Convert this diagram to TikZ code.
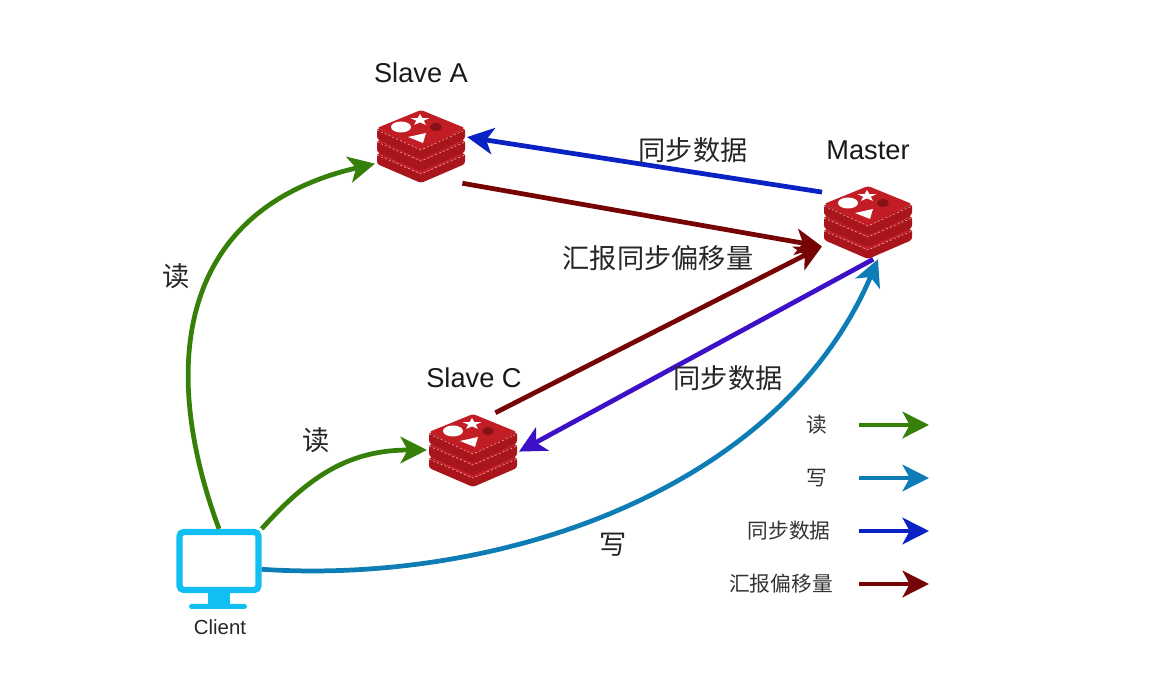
\documentclass[tikz,border=0pt]{standalone}
\usepackage{fontspec}
\usepackage{xcolor}
\usepackage{tikz}
\setmainfont{Liberation Sans}
\newfontfamily\cjk{Noto Sans CJK SC}
\usetikzlibrary{arrows.meta}
\definecolor{readgreen}{HTML}{367F08}
\definecolor{writeblue}{HTML}{0E7DB5}
\definecolor{syncblue}{HTML}{0A22C4}
\definecolor{syncpurple}{HTML}{3C10C6}
\definecolor{reportred}{HTML}{770404}
\definecolor{screencyan}{HTML}{12BFF2}
\definecolor{redistop}{HTML}{C21C24}
\definecolor{redisside}{HTML}{A8161C}
\tikzset{
    flow/.style={line width=2.7pt, -{Stealth[length=15pt, width=15pt, inset=4pt]}},
    iconbox/.style={minimum width=52pt, minimum height=42pt, inner sep=0pt},
    monitor/.style={draw=screencyan, line width=3.6pt, rounded corners=2.5pt, minimum width=45pt, minimum height=33pt, inner sep=0pt},
    hostname/.style={font=\fontsize{15.5}{18}\selectfont, text=black!90},
    lab/.style={font=\cjk\fontsize{15.5}{18}\selectfont, text=black!85},
    legtext/.style={font=\cjk\fontsize{11.8}{14}\selectfont, text=black!80},
    rimline/.style={draw=red!30!white, line width=0.3pt, dash pattern=on 1.2pt off 1.2pt},
    redisstack/.pic={
        \fill [redisside, rounded corners=1.5pt] (-44,7) -- (0,28) -- (44,7) -- (44,18) -- (0,37) -- (-44,18) -- cycle;
        \fill [redistop, rounded corners=1.5pt] (-44,7) -- (0,-11) -- (44,7) -- (0,28) -- cycle;
        \draw [rimline] (-44,9) -- (0,28) -- (44,9);
        \fill [redisside, rounded corners=1.5pt] (-44,-6) -- (0,15) -- (44,-6) -- (44,6) -- (0,25) -- (-44,6) -- cycle;
        \fill [redistop, rounded corners=1.5pt] (-44,-6) -- (0,-24) -- (44,-6) -- (0,15) -- cycle;
        \draw [rimline] (-44,-4) -- (0,15) -- (44,-4);
        \fill [redisside, rounded corners=1.5pt] (-44,-18) -- (0,4) -- (44,-18) -- (44,-7) -- (0,13) -- (-44,-7) -- cycle;
        \fill [redistop, rounded corners=1.5pt] (-44,-18) -- (0,-36) -- (44,-18) -- (0,4) -- cycle;
        \draw [rimline] (-44,-16) -- (0,4) -- (44,-16);
        \fill [white] (-20,-19) ellipse (10 and 5.5);
        \fill [white, shift={(0,2)}] (-1,-34) -- (1.4,-29.9) -- (8.5,-29.9) -- (2.8,-27.3) -- (4.9,-23.1) -- (-1,-25.6) -- (-6.9,-23.1) -- (-4.8,-27.3) -- (-10.5,-29.9) -- (-3.4,-29.9) -- cycle;
        \fill [white] (-13,-9) -- (5,-13) -- (2,-3) -- cycle;
        \fill [redisside!80!black] (15,-19) ellipse (6 and 4);
    }
}

\begin{document}
\begin{tikzpicture}[x=0.02cm, y=-0.02cm]
    \useasboundingbox (0,0) rectangle (1160,688);

    \node [iconbox] (slavea) at (421,146) {};
    \node [iconbox] (master) at (868,222) {};
    \node [iconbox] (slavec) at (473,450) {};
    \pic at (slavea) {redisstack};
    \pic at (master) {redisstack};
    \pic at (slavec) {redisstack};

    \node [monitor] (client) at (219,561) {};
    \fill [screencyan] (208,590) rectangle (230,606);
    \fill [screencyan, rounded corners=1pt] (189,604) rectangle (247,609);

    \node [hostname] (slaveatext) at (421,73) {Slave A};
    \node [hostname] (mastertext) at (868,150) {Master};
    \node [hostname] (slavectext) at (474,378) {Slave C};
    \node [font=\fontsize{11.6}{14}\selectfont, text=black!85] (clienttext) at (220,627) {Client};

    \draw [flow, syncblue] (master.147) -- (slavea.11);
    \draw [flow, reportred] (slavea.-42) -- (master.208);
    \draw [flow, reportred] (slavec.59) -- (master.208);
    \draw [flow, syncpurple] (master.-82) -- (slavec.-2);
    \draw [flow, readgreen] (client.north) .. controls (160,370) and (175,210) .. (slavea.201);
    \draw [flow, readgreen] (client.north east) .. controls (310,475) and (350,450) .. (slavec.west);
    \draw [flow, writeblue] (client.-11) .. controls (500,585) and (780,490) .. (master.-75);

    \node [lab] (syncatext) at (693,150) {同步数据};
    \node [lab] (reporttext) at (658,258) {汇报同步偏移量};
    \node [lab] (synctext) at (728,378) {同步数据};
    \node [lab] (readatext) at (176,276) {读};
    \node [lab] (readctext) at (316,440) {读};
    \node [lab] (writetext) at (613,545) {写};

    \node [legtext] (legread) at (817,425) {读};
    \node [legtext] (legwrite) at (817,478) {写};
    \node [legtext] (legsync) at (789,531) {同步数据};
    \node [legtext] (legreport) at (781,584) {汇报偏移量};

    \coordinate (readfrom) at (859,425);
    \coordinate (readto) at (929,425);
    \coordinate (writefrom) at (859,478);
    \coordinate (writeto) at (929,478);
    \coordinate (syncfrom) at (859,531);
    \coordinate (syncto) at (929,531);
    \coordinate (reportfrom) at (859,584);
    \coordinate (reportto) at (929,584);
    \draw [flow, readgreen] (readfrom) -- (readto);
    \draw [flow, writeblue] (writefrom) -- (writeto);
    \draw [flow, syncblue] (syncfrom) -- (syncto);
    \draw [flow, reportred] (reportfrom) -- (reportto);
\end{tikzpicture}
\end{document}
